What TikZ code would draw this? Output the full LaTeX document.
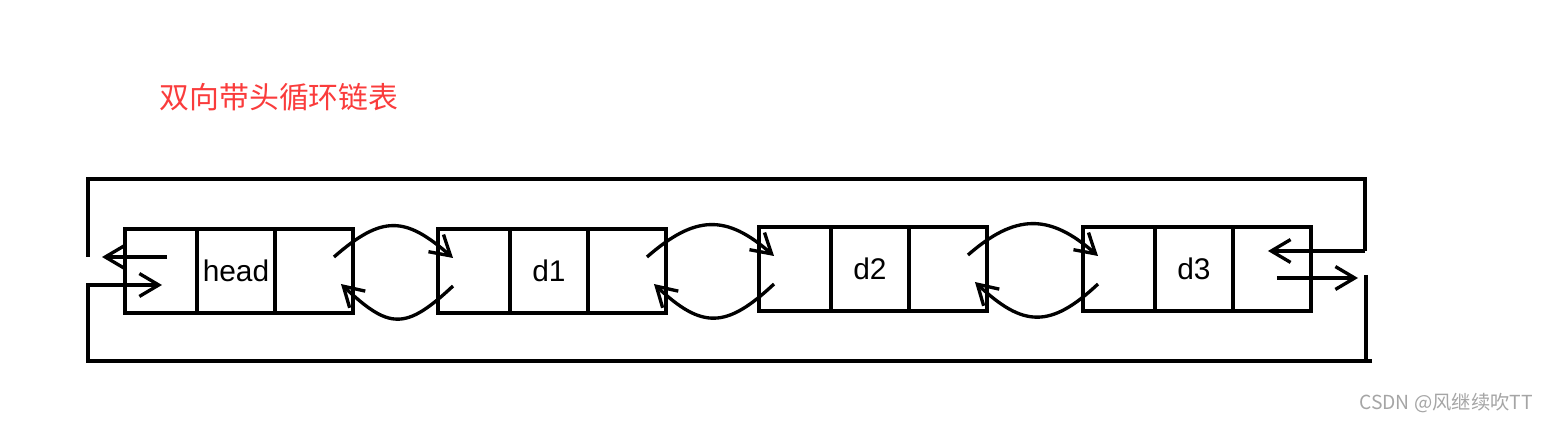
\documentclass[tikz,border=0pt]{standalone}
\usepackage{fontspec}
\setmainfont{Liberation Sans}
\newfontfamily\cjk{Noto Sans CJK SC}
\usetikzlibrary{arrows.meta, positioning, calc}

\definecolor{titlered}{RGB}{250,60,60}
\definecolor{markgray}{RGB}{165,165,165}

\begin{document}
\begin{tikzpicture}[
    x=0.02cm, y=-0.02cm,
    line width=1.9pt,
    ptr/.style={draw, minimum width=1.44cm, minimum height=1.68cm,
                inner sep=0pt, outer sep=0pt},
    dat/.style={ptr, minimum width=1.56cm, font=\fontsize{17}{20}\selectfont},
    title/.style={font=\cjk\fontsize{17}{20}\selectfont, text=titlered},
    wmark/.style={font=\cjk\fontsize{11}{13}\selectfont, text=markgray},
    >={Straight Barb[length=11pt, width=13pt]}
  ]
    \useasboundingbox (0,0) rectangle (1546,422);

    \node[title] (ttl) at (279,97) {双向带头循环链表};

    % list nodes: prev | data | next
    \foreach \n/\t/\x/\y in {h/head/161/271, a/d1/474/271, b/d2/795/269, c/d3/1119/269} {
      \node[ptr] (\n-p) at (\x,\y) {};
      \node[dat, right=0pt of \n-p] (\n-d) {\t};
      \node[dat, right=0pt of \n-d] (\n-n) {};
    }

    % next / prev links between neighbours
    \foreach \a/\b in {h/a, a/b, b/c} {
      \draw[->] ($(\a-n.center)+(20,-14)$) .. controls +(48,-42) and +(-48,-42) .. ($(\b-p.center)+(-21,-13)$);
      \draw[->] ($(\b-p.center)+(-21,15)$) .. controls +(-48,45) and +(48,45) .. ($(\a-n.center)+(27,13)$);
    }

    % closing the ring
    \coordinate (lm) at (88,257);
    \coordinate (tl) at (88,179);
    \coordinate (tr) at (1365,179);
    \coordinate (rm) at (1365,251);
    \coordinate (lb) at (88,285);
    \coordinate (bl) at (88,361);
    \coordinate (br) at (1372,361);
    \coordinate (rb) at (1366,275);
    \coordinate (rt) at (1358,278);
    \coordinate (lt) at (102,257);

    \draw (lm) -- (tl) -- (tr) -- (rm);
    \draw[->] (rm) -- ($(c-n.center)+(-4,-18)$);
    \draw[->] ($(h-p.center)+(6,-14)$) -- (lt);
    \draw[->] (br) -- (bl) -- (lb) -- ($(h-p.center)+(1,14)$);
    \draw (rb) -- (rb |- br);
    \draw[->] ($(c-n.center)+(5,9)$) -- (rt);

    \node[wmark] (wm) at (1446,403) {CSDN @风继续吹TT};
  \end{tikzpicture}
\end{document}
